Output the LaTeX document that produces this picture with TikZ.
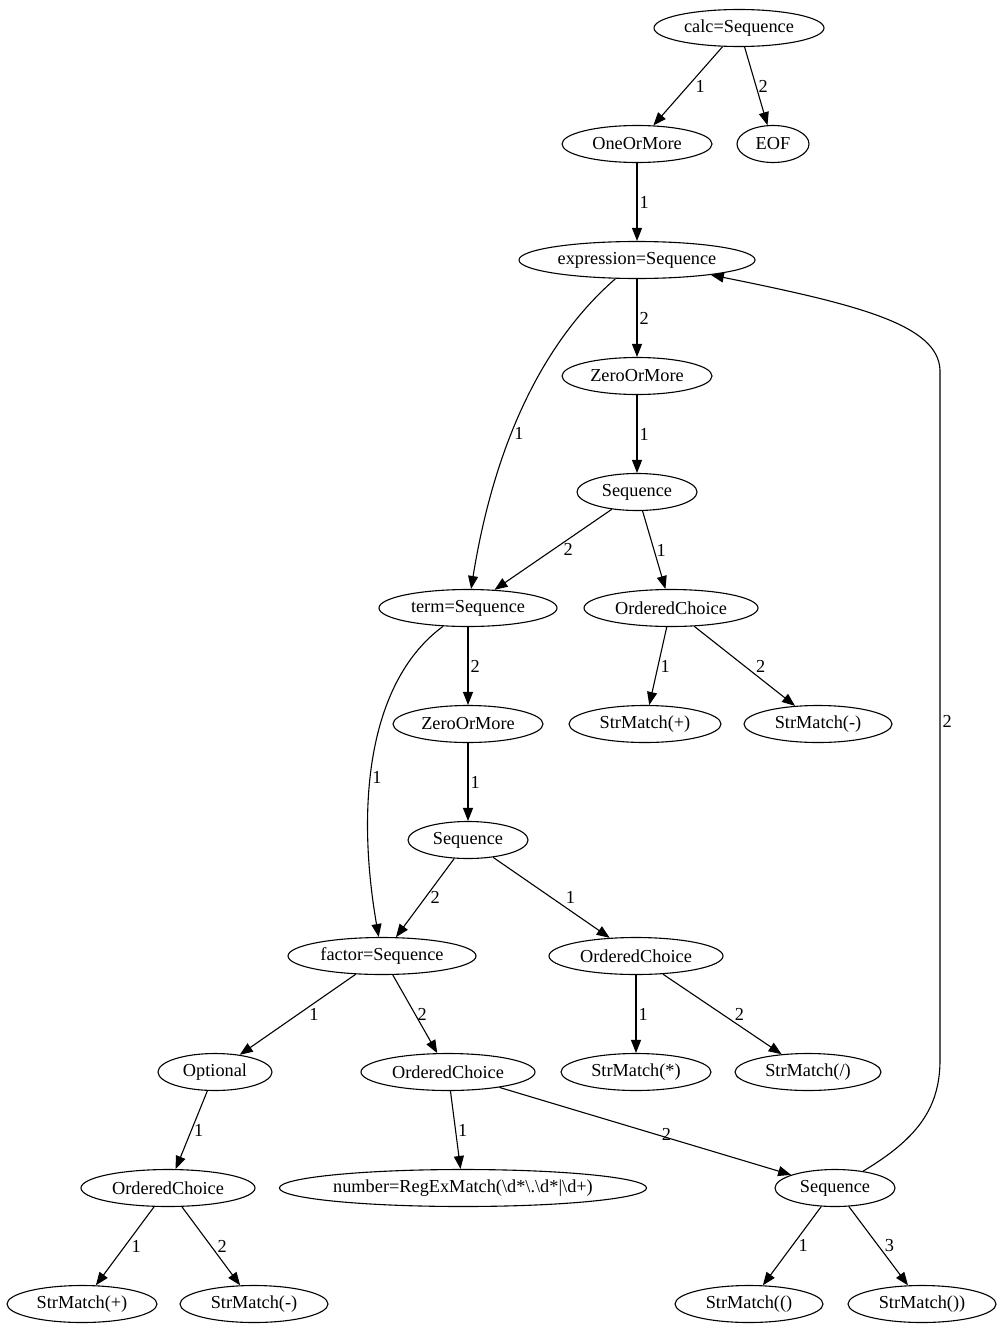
\documentclass[tikz,border=0pt]{standalone}
\usepackage{fontspec}
\setmainfont{Liberation Serif}
\usetikzlibrary{arrows.meta,shapes.geometric}

\begin{document}
\begin{tikzpicture}[x=1pt, y=-1pt]
\tikzstyle{rule}=[draw, ellipse, line width=1.1pt, inner sep=0pt, minimum height=37pt, font=\fontsize{18.3}{22}\selectfont]
\tikzstyle{elabel}=[font=\fontsize{18.3}{22}\selectfont, inner sep=2pt]
\tikzstyle{arr}=[line width=1.1pt, -{Triangle[length=13pt, width=10pt]}]
\useasboundingbox (0,0) rectangle (1003,1335);

% top
\node[rule, minimum width=170pt] (calc) at (739, 28) {calc=Sequence};
\node[rule, minimum width=150pt] (oneormore) at (637, 144) {OneOrMore};
\node[rule, minimum width=72pt] (eof) at (773, 144) {EOF};
\node[rule, minimum width=236pt] (expression) at (637, 260) {expression=Sequence};
\node[rule, minimum width=150pt] (zom1) at (637, 376) {ZeroOrMore};
\node[rule, minimum width=120pt] (seq1) at (637, 492) {Sequence};

% term
\node[rule, minimum width=178pt] (term) at (468, 608) {term=Sequence};
\node[rule, minimum width=174pt] (choice1) at (671, 608) {OrderedChoice};
\node[rule, minimum width=152pt] (plus1) at (645, 724) {StrMatch(+)};
\node[rule, minimum width=148pt] (minus1) at (818, 724) {StrMatch(-)};
\node[rule, minimum width=150pt] (zom2) at (468, 724) {ZeroOrMore};
\node[rule, minimum width=120pt] (seq2) at (468, 840) {Sequence};

% factor
\node[rule, minimum width=188pt] (factor) at (382, 956) {factor=Sequence};
\node[rule, minimum width=174pt] (choice2) at (636, 956) {OrderedChoice};
\node[rule, minimum width=150pt] (mul) at (636, 1072) {StrMatch(*)};
\node[rule, minimum width=146pt] (div) at (808, 1072) {StrMatch(/)};
\node[rule, minimum width=114pt] (optional) at (215, 1072) {Optional};
\node[rule, minimum width=174pt] (choice3) at (448, 1072) {OrderedChoice};
\node[rule, minimum width=174pt] (choice4) at (168, 1188) {OrderedChoice};
\node[rule, minimum width=366pt] (number) at (463, 1188) {number=RegExMatch(\textbackslash d*\textbackslash .\textbackslash d*|\textbackslash d+)};
\node[rule, minimum width=120pt] (seq3) at (835, 1188) {Sequence};
\node[rule, minimum width=150pt] (plus2) at (82, 1304) {StrMatch(+)};
\node[rule, minimum width=148pt] (minus2) at (254, 1304) {StrMatch(-)};
\node[rule, minimum width=148pt] (lpar) at (749, 1304) {StrMatch(()};
\node[rule, minimum width=148pt] (rpar) at (922, 1304) {StrMatch())};

\draw[arr] (calc) -- node[elabel, right=5pt] {1} (oneormore);
\draw[arr] (calc) -- node[elabel, right] {2} (eof);
\draw[arr] (oneormore) -- node[elabel, right] {1} (expression);
\draw[arr] (expression) -- node[elabel, right] {2} (zom1);
\draw[arr] (expression) .. controls (545,340) and (495,440) .. node[elabel, right, pos=0.6] {1} (term);
\draw[arr] (zom1) -- node[elabel, right] {1} (seq1);
\draw[arr] (seq1) -- node[elabel, right=8pt] {2} (term);
\draw[arr] (seq1) -- node[elabel, right] {1} (choice1);
\draw[arr] (choice1) -- node[elabel, right] {1} (plus1);
\draw[arr] (choice1) -- node[elabel, right=9pt] {2} (minus1);
\draw[arr] (term) -- node[elabel, right] {2} (zom2);
\draw[arr] (term) .. controls (370,680) and (355,800) .. node[elabel, right, pos=0.58, inner sep=1pt] {1} (factor);
\draw[arr] (zom2) -- node[elabel, right] {1} (seq2);
\draw[arr] (seq2) -- node[elabel, right=3pt] {2} (factor);
\draw[arr] (seq2) -- node[elabel, right=12pt] {1} (choice2);
\draw[arr] (choice2) -- node[elabel, right] {1} (mul);
\draw[arr] (choice2) -- node[elabel, right=10pt] {2} (div);
\draw[arr] (factor) -- node[elabel, right=9pt] {1} (optional);
\draw[arr] (factor) -- node[elabel, right] {2} (choice3);
\draw[arr] (optional) -- node[elabel, right] {1} (choice4);
\draw[arr] (choice3) -- node[elabel, right] {1} (number);
\draw[arr] (choice3) -- node[elabel, right=14pt, yshift=-3pt] {2} (seq3);
\draw[arr] (choice4) -- node[elabel, right=4pt] {1} (plus2);
\draw[arr] (choice4) -- node[elabel, right=4pt] {2} (minus2);
\draw[arr] (seq3) -- node[elabel, right=4pt] {1} (lpar);
\draw[arr] (seq3) -- node[elabel, right=4pt] {3} (rpar);
\draw[arr] (seq3) .. controls (915,1140) and (940,1110) .. (940,1060)
  -- node[elabel, right, pos=0.49] {2} (940,370)
  .. controls (938,325) and (860,305) .. (expression);

\end{tikzpicture}
\end{document}
